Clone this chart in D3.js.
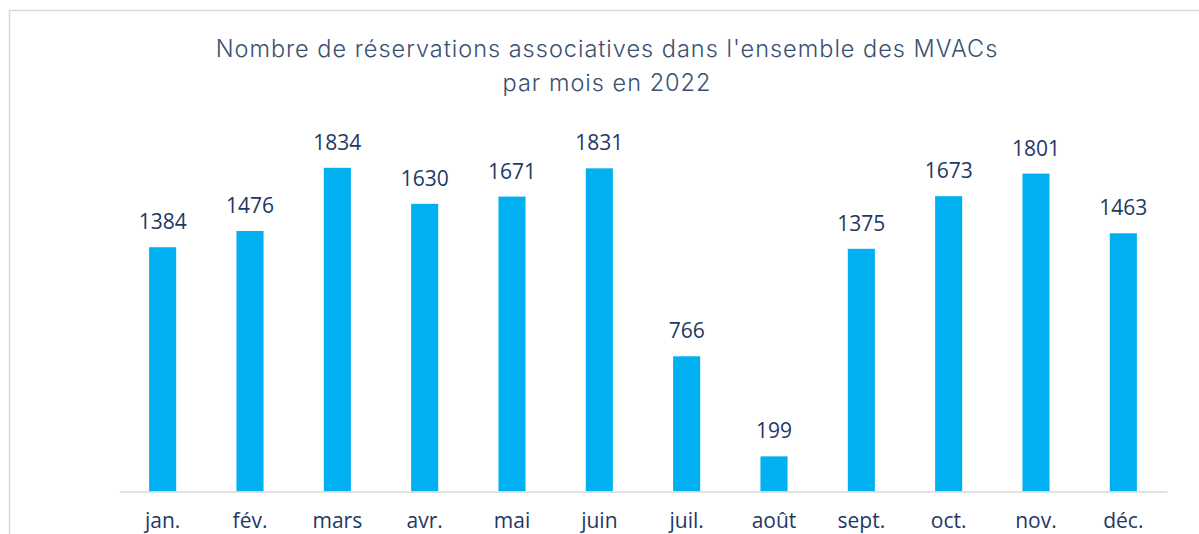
<!DOCTYPE html>
<html>
<head>
<meta charset="utf-8">
<script src="https://cdn.jsdelivr.net/npm/d3@7"></script>
<style>
  html, body { margin: 0; padding: 0; background: #fff; }
</style>
</head>
<body>
<div id="chart"></div>
<script>
// data
const months = ["jan.", "fév.", "mars", "avr.", "mai", "juin", "juil.", "août", "sept.", "oct.", "nov.", "déc."]
const reservations = [1384, 1476, 1834, 1630, 1671, 1831, 766, 199, 1375, 1673, 1801, 1463]
const titleLines = ["Nombre de réservations associatives dans l'ensemble des MVACs", "par mois en 2022"]

const barColor = "#00B0F0"
const labelColor = "#1F3864"

const width = 1199, height = 534
const margin = {top: 138.5, right: 32, bottom: 42.5, left: 119}

const svg = d3.select("#chart")
  .append("svg")
  .attr("width", width)
  .attr("height", height)

// chart frame (only top and left visible)
svg.append("rect")
  .attr("x", 9.5)
  .attr("y", 10.5)
  .attr("width", width + 20)
  .attr("height", height + 20)
  .attr("fill", "none")
  .attr("stroke", "#d9d9d9")
  .attr("stroke-width", 1.5)

// title
svg.append("g")
  .selectAll("text")
  .data(titleLines)
  .join("text")
  .attr("x", 607)
  .attr("y", (d, i) => 57 + i * 34)
  .attr("text-anchor", "middle")
  .attr("font-family", "Inter, 'Open Sans', sans-serif")
  .attr("font-weight", 300)
  .attr("font-size", 23.5)
  .attr("letter-spacing", 1)
  .attr("fill", "#3A5070")
  .text(d => d)

const x = d3.scaleBand()
  .domain(months)
  .range([margin.left, width - margin.right])
  .paddingInner(0.69)
  .paddingOuter(0.345)

const y = d3.scaleLinear()
  .domain([0, 2000])
  .range([height - margin.bottom, margin.top])

// bars
svg.append("g")
  .selectAll("rect")
  .data(reservations)
  .join("rect")
  .attr("x", (d, i) => x(months[i]))
  .attr("y", d => y(d))
  .attr("width", x.bandwidth())
  .attr("height", d => y(0) - y(d))
  .attr("fill", barColor)

// value labels
svg.append("g")
  .selectAll("text")
  .data(reservations)
  .join("text")
  .attr("x", (d, i) => x(months[i]) + x.bandwidth() / 2)
  .attr("y", d => y(d) - 18)
  .attr("text-anchor", "middle")
  .attr("font-family", "'Open Sans', sans-serif")
  .attr("font-size", 21)
  .attr("fill", labelColor)
  .text(d => d)

// x axis
const xAxis = svg.append("g")
  .attr("transform", `translate(0,${y(0)})`)
  .call(d3.axisBottom(x).tickSize(0).tickPadding(0))

xAxis.select(".domain")
  .attr("stroke", "#d9d9d9")
  .attr("stroke-width", 1.5)

xAxis.selectAll(".tick text")
  .attr("dy", null)
  .attr("y", 36.5)
  .attr("font-family", "'Open Sans', sans-serif")
  .attr("font-size", 21)
  .attr("fill", labelColor)
</script>
</body>
</html>
